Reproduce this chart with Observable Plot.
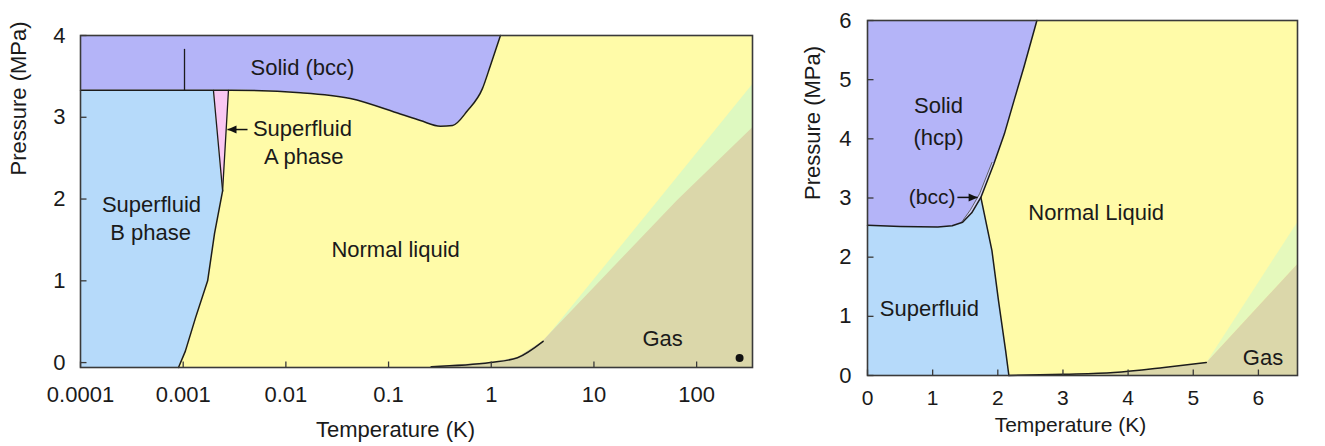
<!DOCTYPE html>
<html>
<head>
<meta charset="utf-8">
<script src="https://cdn.jsdelivr.net/npm/d3@7"></script>
<script src="https://cdn.jsdelivr.net/npm/@observablehq/plot@0.6"></script>
<style>
  body { margin: 0; background: #ffffff; }
  #wrap { position: relative; width: 1325px; height: 446px; overflow: hidden; background: #fff; }
  #left { position: absolute; left: 0; top: 0; }
  #right { position: absolute; left: 780px; top: 0; }
</style>
</head>
<body>
<div id="wrap"><div id="left"></div><div id="right"></div></div>
<script>
// ================= DATA =================
// ---- Helium-3 (left panel), temperature in K (log), pressure in MPa ----
const he3TDomain = [0.0001, 350];
const he3PDomain = [-0.06, 4];
const he3XTicks = [0.0001, 0.001, 0.01, 0.1, 1, 10, 100];
const he3XTickLabels = ["0.0001", "0.001", "0.01", "0.1", "1", "10", "100"];
const he3YTicks = [0, 1, 2, 3, 4];
const he3YTickLabels = ["0", "1", "2", "3", "4"];

// melting curve (liquid/solid)
const he3MeltT = [0.0001, 0.001, 0.0029, 0.0139, 0.0425, 0.13, 0.204, 0.32, 0.42, 0.586, 0.82, 0.98, 1.23];
const he3MeltP = [3.33, 3.33, 3.33, 3.30, 3.23, 3.04, 2.96, 2.89, 2.90, 3.08, 3.35, 3.63, 4.0];
// superfluid B / normal boundary
const he3BNT = [0.00090, 0.00105, 0.00132, 0.00173, 0.00202, 0.00242];
const he3BNP = [-0.06, 0.14, 0.55, 1.00, 1.58, 2.10];
// superfluid B / A boundary
const he3BAT = [0.00242, 0.00197];
const he3BAP = [2.10, 3.33];
// superfluid A / normal boundary
const he3ANT = [0.00242, 0.00276];
const he3ANP = [2.10, 3.33];
// ordering transition in the solid
const he3SolidTickT = [0.00103, 0.00103];
const he3SolidTickP = [3.33, 3.83];
// vapour pressure curve
const he3VapT = [0.26, 0.98, 1.8, 3.2];
const he3VapP = [-0.05, 0.0, 0.06, 0.26];
// gas edge beyond the critical point
const he3GasEdgeT = [3.2, 65, 350];
const he3GasEdgeP = [0.26, 1.98, 2.87];
// upper edge of the green supercritical fringe
const he3FringeT = [3.2, 41.7, 350];
const he3FringeP = [0.26, 1.98, 3.41];
// labels
const he3LabelText = ["Solid (bcc)", "Superfluid", "A phase", "Superfluid", "B phase", "Normal liquid", "Gas"];
const he3LabelT = [0.0145, 0.0145, 0.0149, 0.000491, 0.000481, 0.117, 46.6];
const he3LabelP = [3.60, 2.86, 2.51, 1.93, 1.58, 1.38, 0.29];
// room-temperature point
const he3PointT = [262];
const he3PointP = [0.057];
// arrow to A phase
const he3ArrowT1 = [0.00423], he3ArrowT2 = [0.0027], he3ArrowP = [2.85];

// ---- Helium-4 (right panel), linear ----
const he4TDomain = [0, 6.6];
const he4PDomain = [0, 6];
const he4XTicks = [0, 1, 2, 3, 4, 5, 6];
const he4YTicks = [0, 1, 2, 3, 4, 5, 6];

const he4MeltT = [0, 0.5, 1.08, 1.3, 1.46, 1.6, 1.74, 1.94, 2.10, 2.25, 2.40, 2.60];
const he4MeltP = [2.54, 2.52, 2.51, 2.53, 2.59, 2.75, 3.01, 3.58, 4.08, 4.65, 5.21, 6.0];
const he4BccT = [1.45, 1.58, 1.72, 1.91];
const he4BccP = [2.60, 2.80, 3.07, 3.60];
const he4LambdaT = [1.74, 1.91, 2.01, 2.12, 2.17];
const he4LambdaP = [3.01, 2.11, 1.27, 0.42, 0];
const he4VapT = [2.17, 3.02, 3.78, 4.55, 5.2];
const he4VapP = [0, 0.02, 0.05, 0.135, 0.22];
const he4GasEdgeT = [5.2, 6.6];
const he4GasEdgeP = [0.22, 1.89];
const he4FringeT = [5.2, 6.6];
const he4FringeP = [0.22, 2.6];
const he4LabelText = ["Solid", "(hcp)", "Normal Liquid", "Superfluid", "Gas"];
const he4LabelT = [1.09, 1.09, 3.51, 0.95, 6.07];
const he4LabelP = [4.56, 4.02, 2.74, 1.13, 0.30];
const he4BccLabelT = [1.35], he4BccLabelP = [3.01];
const he4ArrowT1 = [1.38], he4ArrowT2 = [1.69], he4ArrowP = [3.01];

// ================= STYLE =================
const FONT = '"Liberation Sans", Arial, Helvetica, sans-serif';
const COL = {
  solid: "#b4b4f8", bcc: "#d2d2fb", superB: "#b6dafa", superA: "#f9c8f2",
  liquid: "#fffba8", gas: "#dbd7aa", fringe: "#def9c0",
  line: "#1c1c1c", frame: "#3a3a3a", text: "#1a1a1a"
};
const FS = 22;

const zip = (ts, ps) => ts.map((t, i) => ({T: t, P: ps[i]}));
const rev = a => a.slice().reverse();
const tickUp = {draw(c) { c.moveTo(0, 0); c.lineTo(0, -6); }};
const tickRight = {draw(c) { c.moveTo(0, 0); c.lineTo(6, 0); }};
// filled arrow heads, tip at the anchor point
const headLeft = {draw(c) { c.moveTo(0, 0); c.lineTo(9, -4); c.lineTo(9, 4); c.closePath(); }};
const headRight = {draw(c) { c.moveTo(0, 0); c.lineTo(-9, -4); c.lineTo(-9, 4); c.closePath(); }};
const labelsOf = (txt, ts, ps) => txt.map((s, i) => ({s, T: ts[i], P: ps[i]}));
const arrowsOf = (t1, t2, p) => t1.map((t, i) => ({T1: t, T2: t2[i], P: p[i]}));

// ================= LEFT: He-3 =================
const he3Fmt = new Map(he3XTicks.map((t, i) => [t, he3XTickLabels[i]]));
const he3YFmt = new Map(he3YTicks.map((t, i) => [t, he3YTickLabels[i]]));
const pMin3 = he3PDomain[0], pMax3 = he3PDomain[1], tMin3 = he3TDomain[0];

const he3B = [...zip(he3BNT, he3BNP), ...zip(he3BAT, he3BAP).slice(1)];
const he3A = [...zip(he3BAT, he3BAP), ...rev(zip(he3ANT, he3ANP))];
const he3Gas = [...zip(he3VapT, he3VapP), ...zip(he3GasEdgeT, he3GasEdgeP).slice(1)];
const he3Fringe = [...zip(he3FringeT, he3FringeP), ...rev(zip(he3GasEdgeT, he3GasEdgeP))];
const he3Arrows = arrowsOf(he3ArrowT1, he3ArrowT2, he3ArrowP);

const left = Plot.plot({
  width: 780, height: 446,
  marginLeft: 80, marginRight: 28, marginTop: 35, marginBottom: 79,
  style: {fontFamily: FONT, fontSize: FS + "px", color: COL.text, background: "transparent", overflow: "visible"},
  x: {type: "log", domain: he3TDomain, label: null},
  y: {domain: he3PDomain, label: null},
  marks: [
    Plot.frame({fill: COL.liquid}),
    Plot.line(he3Fringe, {x: "T", y: "P", fill: COL.fringe, stroke: "none"}),
    Plot.areaY(he3Gas, {x: "T", y1: () => pMin3, y2: "P", fill: COL.gas}),
    Plot.areaX(he3B, {y: "P", x1: () => tMin3, x2: "T", fill: COL.superB}),
    Plot.line(he3A, {x: "T", y: "P", fill: COL.superA, stroke: "none"}),
    Plot.areaY(zip(he3MeltT, he3MeltP), {x: "T", y1: "P", y2: () => pMax3, fill: COL.solid, curve: "monotone-x"}),
    // boundaries
    Plot.line(zip(he3MeltT, he3MeltP), {x: "T", y: "P", stroke: COL.line, strokeWidth: 1.5, curve: "monotone-x"}),
    Plot.line(zip(he3BNT, he3BNP), {x: "T", y: "P", stroke: COL.line, strokeWidth: 1.5}),
    Plot.line(zip(he3BAT, he3BAP), {x: "T", y: "P", stroke: COL.line, strokeWidth: 1.3}),
    Plot.line(zip(he3ANT, he3ANP), {x: "T", y: "P", stroke: COL.line, strokeWidth: 1.3}),
    Plot.line(zip(he3SolidTickT, he3SolidTickP), {x: "T", y: "P", stroke: COL.line, strokeWidth: 1.3}),
    Plot.line(zip(he3VapT, he3VapP), {x: "T", y: "P", stroke: COL.line, strokeWidth: 1.5, curve: "monotone-x"}),
    Plot.dot(zip(he3PointT, he3PointP), {x: "T", y: "P", r: 4, fill: "#111", stroke: "none"}),
    Plot.link(he3Arrows, {x1: "T1", x2: "T2", y1: "P", y2: "P", stroke: "#111", strokeWidth: 1.5}),
    Plot.dot(he3Arrows, {x: "T2", y: "P", symbol: headLeft, fill: "#111", stroke: "none"}),
    // labels
    Plot.text(labelsOf(he3LabelText, he3LabelT, he3LabelP), {x: "T", y: "P", text: "s", fontSize: FS, fill: COL.text}),
    // frame and ticks
    Plot.frame({stroke: COL.frame, strokeWidth: 1.6}),
    Plot.dot(he3XTicks, {x: d => d, y: () => pMin3, symbol: tickUp, stroke: COL.frame, strokeWidth: 1.3, fill: "none"}),
    Plot.dot(he3YTicks, {x: () => tMin3, y: d => d, symbol: tickRight, stroke: COL.frame, strokeWidth: 1.3, fill: "none"}),
    Plot.axisX(he3XTicks, {anchor: "bottom", tickSize: 0, tickPadding: 19, tickFormat: d => he3Fmt.get(d), fontSize: FS, label: null}),
    Plot.axisY(he3YTicks, {anchor: "left", tickSize: 0, tickPadding: 15, tickFormat: d => he3YFmt.get(d), fontSize: FS, label: null}),
    Plot.text(["Temperature (K)"], {frameAnchor: "bottom", text: d => d, dx: -21, dy: 69, fontSize: FS, fill: COL.text}),
    Plot.text(["Pressure (MPa)"], {frameAnchor: "left", text: d => d, rotate: -90, dx: -62, dy: -26, fontSize: FS, fill: COL.text})
  ]
});
document.getElementById("left").appendChild(left);

// ================= RIGHT: He-4 =================
const tMin4 = he4TDomain[0], tMax4 = he4TDomain[1], pMin4 = he4PDomain[0], pMax4 = he4PDomain[1];
const he4MeltPts = zip(he4MeltT, he4MeltP);
const he4Solid = [...he4MeltPts, {T: tMin4, P: pMax4}];
const meltUpTo = t => he4MeltPts.filter(d => d.T <= t + 1e-9);
const he4Super = [{T: tMin4, P: pMin4}, ...meltUpTo(he4LambdaT[0]), ...zip(he4LambdaT, he4LambdaP).slice(1)];
const he4BccPoly = [...zip(he4BccT, he4BccP), ...rev(he4MeltPts.filter(d => d.T >= 1.46 && d.T <= 1.94))];
const he4Gas = [...zip(he4VapT, he4VapP), ...zip(he4GasEdgeT, he4GasEdgeP).slice(1), {T: tMax4, P: pMin4}];
const he4Fringe = [...zip(he4FringeT, he4FringeP), ...rev(zip(he4GasEdgeT, he4GasEdgeP))];
const he4Arrows = arrowsOf(he4ArrowT1, he4ArrowT2, he4ArrowP);
const FS4 = 21;

const right = Plot.plot({
  width: 545, height: 446,
  marginLeft: 87, marginRight: 28, marginTop: 20, marginBottom: 71,
  style: {fontFamily: FONT, fontSize: FS4 + "px", color: COL.text, background: "transparent", overflow: "visible"},
  x: {domain: he4TDomain, label: null},
  y: {domain: he4PDomain, label: null},
  marks: [
    Plot.frame({fill: COL.liquid}),
    Plot.line(he4Fringe, {x: "T", y: "P", fill: COL.fringe, stroke: "none", fillOpacity: 0.8}),
    Plot.line(he4Gas, {x: "T", y: "P", fill: COL.gas, stroke: "none"}),
    Plot.line(he4Super, {x: "T", y: "P", fill: COL.superB, stroke: "none"}),
    Plot.line(he4Solid, {x: "T", y: "P", fill: COL.solid, stroke: "none"}),
    Plot.line(he4BccPoly, {x: "T", y: "P", fill: COL.bcc, stroke: "none"}),
    Plot.line(zip(he4BccT, he4BccP), {x: "T", y: "P", stroke: "#555", strokeWidth: 0.9}),
    Plot.line(he4MeltPts, {x: "T", y: "P", stroke: COL.line, strokeWidth: 1.5}),
    Plot.line(zip(he4LambdaT, he4LambdaP), {x: "T", y: "P", stroke: COL.line, strokeWidth: 1.5}),
    Plot.line(zip(he4VapT, he4VapP), {x: "T", y: "P", stroke: COL.line, strokeWidth: 1.5, curve: "monotone-x"}),
    Plot.link(he4Arrows, {x1: "T1", x2: "T2", y1: "P", y2: "P", stroke: "#111", strokeWidth: 1.5}),
    Plot.dot(he4Arrows, {x: "T2", y: "P", symbol: headRight, fill: "#111", stroke: "none"}),
    Plot.text(labelsOf(he4LabelText, he4LabelT, he4LabelP), {x: "T", y: "P", text: "s", fontSize: 22, fill: COL.text}),
    Plot.text(labelsOf(["(bcc)"], he4BccLabelT, he4BccLabelP), {x: "T", y: "P", text: "s", textAnchor: "end", fontSize: FS4, fill: COL.text}),
    Plot.frame({stroke: COL.frame, strokeWidth: 1.6}),
    Plot.dot(he4XTicks, {x: d => d, y: () => pMin4, symbol: tickUp, stroke: COL.frame, strokeWidth: 1.3, fill: "none"}),
    Plot.dot(he4YTicks, {x: () => tMin4, y: d => d, symbol: tickRight, stroke: COL.frame, strokeWidth: 1.3, fill: "none"}),
    Plot.axisX(he4XTicks, {anchor: "bottom", tickSize: 0, tickPadding: 15, tickFormat: d => String(d), fontSize: FS4, label: null}),
    Plot.axisY(he4YTicks, {anchor: "left", tickSize: 0, tickPadding: 16, tickFormat: d => String(d), fontSize: 22, label: null}),
    Plot.text(["Temperature (K)"], {frameAnchor: "bottom", text: d => d, dx: -12, dy: 56, fontSize: FS4, fill: COL.text}),
    Plot.text(["Pressure (MPa)"], {frameAnchor: "left", text: d => d, rotate: -90, dx: -55, dy: 2, fontSize: 22, fill: COL.text})
  ]
});
document.getElementById("right").appendChild(right);
</script>
</body>
</html>
